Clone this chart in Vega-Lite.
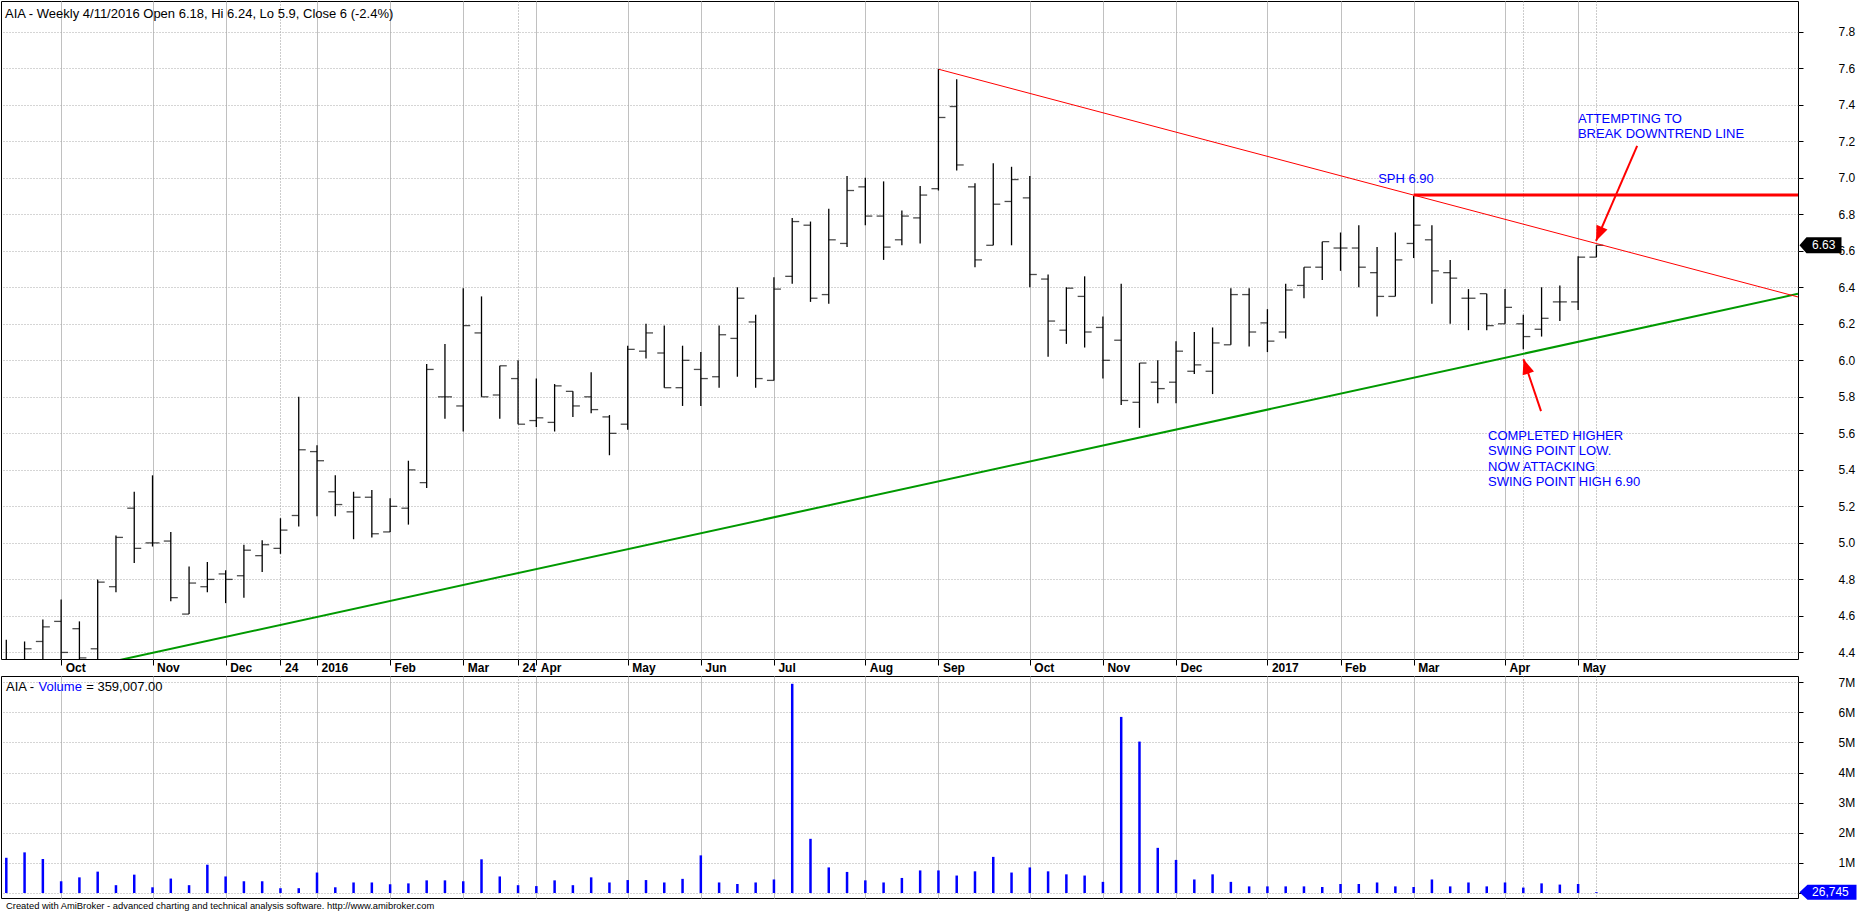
{
  "$schema": "https://vega.github.io/schema/vega-lite/v6.json",
  "padding": 0,
  "background": "white",
  "bounds": "flush",
  "spacing": 17,
  "config": {
    "font": "Liberation Sans",
    "view": {"stroke": "black", "strokeWidth": 1},
    "axis": {"labelFont": "Liberation Sans", "labelColor": "black", "labelOverlap": false, "labelSeparation": 0}
  },
  "datasets": {
    "bars": [
      {"i":0,"o":4.34,"h":4.47,"l":4.30,"c":4.35,"v":1170000},
      {"i":1,"o":4.35,"h":4.46,"l":4.30,"c":4.42,"v":1350000},
      {"i":2,"o":4.46,"h":4.58,"l":4.33,"c":4.54,"v":1130000},
      {"i":3,"o":4.57,"h":4.69,"l":4.33,"c":4.40,"v":390000},
      {"i":4,"o":4.53,"h":4.57,"l":4.36,"c":4.37,"v":520000},
      {"i":5,"o":4.42,"h":4.80,"l":4.34,"c":4.785,"v":710000},
      {"i":6,"o":4.76,"h":5.04,"l":4.73,"c":5.03,"v":260000},
      {"i":7,"o":5.19,"h":5.28,"l":4.89,"c":4.97,"v":610000},
      {"i":8,"o":5.00,"h":5.37,"l":4.98,"c":5.00,"v":190000},
      {"i":9,"o":5.01,"h":5.06,"l":4.68,"c":4.70,"v":480000},
      {"i":10,"o":4.61,"h":4.87,"l":4.61,"c":4.78,"v":260000},
      {"i":11,"o":4.76,"h":4.895,"l":4.73,"c":4.80,"v":940000},
      {"i":12,"o":4.83,"h":4.85,"l":4.67,"c":4.80,"v":550000},
      {"i":13,"o":4.82,"h":4.99,"l":4.70,"c":4.96,"v":390000},
      {"i":14,"o":4.93,"h":5.015,"l":4.84,"c":4.99,"v":390000},
      {"i":15,"o":4.97,"h":5.135,"l":4.94,"c":5.07,"v":160000},
      {"i":16,"o":5.15,"h":5.80,"l":5.09,"c":5.51,"v":160000},
      {"i":17,"o":5.50,"h":5.535,"l":5.146,"c":5.45,"v":680000},
      {"i":18,"o":5.28,"h":5.37,"l":5.146,"c":5.21,"v":190000},
      {"i":19,"o":5.17,"h":5.28,"l":5.02,"c":5.25,"v":350000},
      {"i":20,"o":5.25,"h":5.29,"l":5.03,"c":5.05,"v":350000},
      {"i":21,"o":5.06,"h":5.245,"l":5.06,"c":5.20,"v":290000},
      {"i":22,"o":5.19,"h":5.45,"l":5.10,"c":5.40,"v":320000},
      {"i":23,"o":5.33,"h":5.98,"l":5.30,"c":5.95,"v":420000},
      {"i":24,"o":5.80,"h":6.09,"l":5.68,"c":5.80,"v":420000},
      {"i":25,"o":5.75,"h":6.395,"l":5.61,"c":6.19,"v":390000},
      {"i":26,"o":6.15,"h":6.35,"l":5.80,"c":5.80,"v":1120000},
      {"i":27,"o":5.81,"h":5.97,"l":5.68,"c":5.97,"v":550000},
      {"i":28,"o":5.90,"h":6.00,"l":5.65,"c":5.65,"v":260000},
      {"i":29,"o":5.67,"h":5.90,"l":5.635,"c":5.685,"v":230000},
      {"i":30,"o":5.66,"h":5.87,"l":5.61,"c":5.86,"v":420000},
      {"i":31,"o":5.83,"h":5.83,"l":5.69,"c":5.75,"v":260000},
      {"i":32,"o":5.80,"h":5.935,"l":5.71,"c":5.73,"v":520000},
      {"i":33,"o":5.69,"h":5.70,"l":5.48,"c":5.60,"v":350000},
      {"i":34,"o":5.65,"h":6.08,"l":5.62,"c":6.06,"v":430000},
      {"i":35,"o":6.05,"h":6.20,"l":6.01,"c":6.15,"v":430000},
      {"i":36,"o":6.04,"h":6.19,"l":5.85,"c":5.85,"v":350000},
      {"i":37,"o":5.85,"h":6.08,"l":5.75,"c":6.00,"v":470000},
      {"i":38,"o":5.95,"h":6.045,"l":5.75,"c":5.90,"v":1250000},
      {"i":39,"o":5.91,"h":6.19,"l":5.85,"c":6.14,"v":350000},
      {"i":40,"o":6.12,"h":6.40,"l":5.91,"c":6.34,"v":300000},
      {"i":41,"o":6.21,"h":6.25,"l":5.85,"c":5.90,"v":350000},
      {"i":42,"o":5.89,"h":6.455,"l":5.89,"c":6.39,"v":450000},
      {"i":43,"o":6.46,"h":6.78,"l":6.42,"c":6.76,"v":6950000},
      {"i":44,"o":6.74,"h":6.76,"l":6.32,"c":6.34,"v":1800000},
      {"i":45,"o":6.36,"h":6.83,"l":6.31,"c":6.66,"v":850000},
      {"i":46,"o":6.64,"h":7.01,"l":6.62,"c":6.93,"v":700000},
      {"i":47,"o":6.95,"h":7.00,"l":6.74,"c":6.79,"v":420000},
      {"i":48,"o":6.79,"h":6.98,"l":6.55,"c":6.62,"v":350000},
      {"i":49,"o":6.66,"h":6.82,"l":6.63,"c":6.79,"v":500000},
      {"i":50,"o":6.78,"h":6.955,"l":6.64,"c":6.905,"v":750000},
      {"i":51,"o":6.94,"h":7.595,"l":6.93,"c":7.33,"v":750000},
      {"i":52,"o":7.39,"h":7.54,"l":7.04,"c":7.07,"v":580000},
      {"i":53,"o":6.95,"h":6.97,"l":6.51,"c":6.55,"v":720000},
      {"i":54,"o":6.63,"h":7.08,"l":6.63,"c":6.855,"v":1200000},
      {"i":55,"o":6.87,"h":7.06,"l":6.63,"c":6.99,"v":680000},
      {"i":56,"o":6.89,"h":7.01,"l":6.40,"c":6.47,"v":850000},
      {"i":57,"o":6.445,"h":6.47,"l":6.02,"c":6.215,"v":720000},
      {"i":58,"o":6.165,"h":6.40,"l":6.09,"c":6.395,"v":620000},
      {"i":59,"o":6.35,"h":6.46,"l":6.07,"c":6.155,"v":580000},
      {"i":60,"o":6.18,"h":6.24,"l":5.90,"c":6.00,"v":370000},
      {"i":61,"o":6.11,"h":6.42,"l":5.755,"c":5.78,"v":5850000},
      {"i":62,"o":5.77,"h":5.985,"l":5.63,"c":5.985,"v":5030000},
      {"i":63,"o":5.88,"h":6.00,"l":5.765,"c":5.845,"v":1500000},
      {"i":64,"o":5.88,"h":6.105,"l":5.765,"c":6.05,"v":1100000},
      {"i":65,"o":5.94,"h":6.155,"l":5.925,"c":5.975,"v":450000},
      {"i":66,"o":5.94,"h":6.18,"l":5.815,"c":6.095,"v":620000},
      {"i":67,"o":6.085,"h":6.395,"l":6.085,"c":6.36,"v":370000},
      {"i":68,"o":6.36,"h":6.395,"l":6.075,"c":6.155,"v":220000},
      {"i":69,"o":6.205,"h":6.28,"l":6.045,"c":6.105,"v":220000},
      {"i":70,"o":6.155,"h":6.42,"l":6.12,"c":6.385,"v":220000},
      {"i":71,"o":6.41,"h":6.51,"l":6.34,"c":6.51,"v":220000},
      {"i":72,"o":6.51,"h":6.65,"l":6.44,"c":6.65,"v":200000},
      {"i":73,"o":6.615,"h":6.70,"l":6.49,"c":6.615,"v":300000},
      {"i":74,"o":6.615,"h":6.74,"l":6.40,"c":6.51,"v":300000},
      {"i":75,"o":6.48,"h":6.62,"l":6.24,"c":6.35,"v":350000},
      {"i":76,"o":6.35,"h":6.70,"l":6.35,"c":6.55,"v":220000},
      {"i":77,"o":6.64,"h":6.90,"l":6.56,"c":6.74,"v":200000},
      {"i":78,"o":6.66,"h":6.74,"l":6.31,"c":6.49,"v":450000},
      {"i":79,"o":6.48,"h":6.55,"l":6.20,"c":6.45,"v":220000},
      {"i":80,"o":6.34,"h":6.39,"l":6.165,"c":6.34,"v":350000},
      {"i":81,"o":6.365,"h":6.365,"l":6.165,"c":6.19,"v":220000},
      {"i":82,"o":6.20,"h":6.39,"l":6.20,"c":6.29,"v":350000},
      {"i":83,"o":6.20,"h":6.25,"l":6.06,"c":6.13,"v":180000},
      {"i":84,"o":6.17,"h":6.40,"l":6.13,"c":6.23,"v":320000},
      {"i":85,"o":6.32,"h":6.41,"l":6.215,"c":6.32,"v":280000},
      {"i":86,"o":6.32,"h":6.57,"l":6.275,"c":6.565,"v":300000},
      {"i":87,"o":6.565,"h":6.63,"l":6.565,"c":6.63,"v":26745}
    ],
    "one": [{}]
  },
  "vconcat": [
    {
      "width": 1797,
      "height": 658,
      "layer": [
        {
          "data": {"name": "bars"},
          "mark": {"type": "rule", "color": "black", "strokeWidth": 1.3, "clip": true},
          "encoding": {
            "x": {
              "field": "i", "type": "quantitative",
              "scale": {"domain": [-0.29, 98.03], "nice": false, "zero": false},
              "axis": {
                "title": null,
                "values": [3,8,12,15,17,21,25,28,29,34,38,42,47,51,56,60,64,69,73,77,82,83,86,87],
                "tickCount": 200,
                "labelExpr": "['Oct','Nov','Dec','24','2016','Feb','Mar','24','Apr','May','Jun','Jul','Aug','Sep','Oct','Nov','Dec','2017','Feb','Mar','Apr','','May',''][indexof([3,8,12,15,17,21,25,28,29,34,38,42,47,51,56,60,64,69,73,77,82,83,86,87], datum.value)]",
                "domain": false,
                "ticks": true,
                "tickSize": 6,
                "tickColor": "black",
                "tickOpacity": {"condition": {"test": "datum.value == 83 || datum.value == 87", "value": 0}, "value": 1},
                "labelFontSize": 12,
                "labelFontWeight": "bold",
                "labelAlign": "left",
                "labelBaseline": "top",
                "labelPadding": -2.5,
                "labelOffset": 4,
                "labelOverlap": false,
                "labelFlush": false,
                "labelBound": false,
                "grid": true,
                "gridColor": {"condition": {"test": "indexof([15,28,83,87], datum.value) >= 0", "value": "#999999"}, "value": "#c0c0c0"},
                "gridDash": {"condition": {"test": "indexof([15,28,83,87], datum.value) >= 0", "value": [1,2]}, "value": []}
              }
            },
            "y": {
              "field": "l", "type": "quantitative",
              "scale": {"domain": [4.364, 7.968], "nice": false, "zero": false},
              "axis": {
                "title": null,
                "orient": "right",
                "values": [4.4,4.6,4.8,5.0,5.2,5.4,5.6,5.8,6.0,6.2,6.4,6.6,6.8,7.0,7.2,7.4,7.6,7.8],
                "tickCount": 100,
                "format": ".1f",
                "domain": false,
                "tickSize": 5,
                "tickColor": "black",
                "labelPadding": 35,
                "labelFontSize": 12,
                "labelAlign": "left",
                "labelBaseline": "middle",
                "labelOverlap": false,
                "labelFlush": false,
                "labelBound": false,
                "grid": true,
                "gridColor": "#aaaaaa",
                "gridDash": [1,2]
              }
            },
            "y2": {"field": "h"}
          }
        },
        {
          "data": {"name": "bars"},
          "mark": {"type": "tick", "orient": "horizontal", "color": "black", "size": 7, "thickness": 1.3, "xOffset": -3.5, "clip": true},
          "encoding": {
            "x": {"field": "i", "type": "quantitative"},
            "y": {"field": "o", "type": "quantitative"}
          }
        },
        {
          "data": {"name": "bars"},
          "mark": {"type": "tick", "orient": "horizontal", "color": "black", "size": 7, "thickness": 1.3, "xOffset": 3.5, "clip": true},
          "encoding": {
            "x": {"field": "i", "type": "quantitative"},
            "y": {"field": "c", "type": "quantitative"}
          }
        },
        {
          "data": {"values": [{"i": 0, "p": 4.223}, {"i": 98.03, "p": 6.364}]},
          "mark": {"type": "line", "color": "#009900", "strokeWidth": 2, "clip": true},
          "encoding": {
            "x": {"field": "i", "type": "quantitative"},
            "y": {"field": "p", "type": "quantitative"}
          }
        },
        {
          "data": {"values": [{"i": 51.02, "p": 7.594}, {"i": 98.03, "p": 6.347}]},
          "mark": {"type": "line", "color": "#ff0000", "strokeWidth": 1, "clip": true},
          "encoding": {
            "x": {"field": "i", "type": "quantitative"},
            "y": {"field": "p", "type": "quantitative"}
          }
        },
        {
          "data": {"values": [{"i": 77, "p": 6.905}, {"i": 98.03, "p": 6.905}]},
          "mark": {"type": "line", "color": "#ff0000", "strokeWidth": 3, "clip": true},
          "encoding": {
            "x": {"field": "i", "type": "quantitative"},
            "y": {"field": "p", "type": "quantitative"}
          }
        },
        {
          "data": {"values": [
            {"i": 89.23, "p": 7.174, "i2": 86.98, "p2": 6.654},
            {"i": 83.97, "p": 5.722, "i2": 83.01, "p2": 6.006}
          ]},
          "mark": {"type": "rule", "color": "#ff0000", "strokeWidth": 2},
          "encoding": {
            "x": {"field": "i", "type": "quantitative"},
            "y": {"field": "p", "type": "quantitative"},
            "x2": {"field": "i2"},
            "y2": {"field": "p2"}
          }
        },
        {
          "data": {"values": [
            {"i": 86.98, "p": 6.654, "a": 203.3},
            {"i": 83.01, "p": 6.006, "a": 341.1}
          ]},
          "mark": {"type": "point", "shape": "M0,0L-0.4,1L0.4,1Z", "filled": true, "color": "#ff0000", "opacity": 1, "size": 900},
          "encoding": {
            "x": {"field": "i", "type": "quantitative"},
            "y": {"field": "p", "type": "quantitative"},
            "angle": {"field": "a", "type": "quantitative", "scale": null}
          }
        },
        {
          "data": {"name": "one"},
          "mark": {"type": "text", "align": "left", "baseline": "alphabetic", "fontSize": 13, "color": "black"},
          "encoding": {
            "x": {"datum": -0.071},
            "y": {"datum": 7.877},
            "text": {"value": "AIA - Weekly 4/11/2016 Open 6.18, Hi 6.24, Lo 5.9, Close 6 (-2.4%)"}
          }
        },
        {
          "data": {"name": "one"},
          "mark": {"type": "text", "align": "left", "baseline": "alphabetic", "fontSize": 13, "color": "#0000ff"},
          "encoding": {
            "x": {"datum": 75.06},
            "y": {"datum": 6.971},
            "text": {"value": "SPH 6.90"}
          }
        },
        {
          "data": {"name": "one"},
          "mark": {"type": "text", "align": "left", "baseline": "alphabetic", "fontSize": 13, "lineHeight": 15, "color": "#0000ff"},
          "encoding": {
            "x": {"datum": 85.99},
            "y": {"datum": 7.3},
            "text": {"value": ["ATTEMPTING TO", "BREAK DOWNTREND LINE"]}
          }
        },
        {
          "data": {"name": "one"},
          "mark": {"type": "text", "align": "left", "baseline": "alphabetic", "fontSize": 13, "lineHeight": 15.5, "color": "#0000ff"},
          "encoding": {
            "x": {"datum": 81.07},
            "y": {"datum": 5.565},
            "text": {"value": ["COMPLETED HIGHER", "SWING POINT LOW.", "NOW ATTACKING", "SWING POINT HIGH 6.90"]}
          }
        },
        {
          "data": {"name": "one"},
          "mark": {"type": "point", "shape": "M-1,0L-0.667,-0.381L1,-0.381L1,0.381L-0.667,0.381Z", "filled": true, "color": "black", "opacity": 1, "size": 1764},
          "encoding": {
            "x": {"datum": 99.26},
            "y": {"datum": 6.63}
          }
        },
        {
          "data": {"name": "one"},
          "mark": {"type": "text", "align": "left", "baseline": "middle", "fontSize": 12, "color": "white"},
          "encoding": {
            "x": {"datum": 98.8},
            "y": {"datum": 6.63},
            "text": {"value": "6.63"}
          }
        }
      ]
    },
    {
      "width": 1797,
      "height": 222,
      "title": {
        "text": "Created with AmiBroker - advanced charting and technical analysis software. http://www.amibroker.com",
        "orient": "bottom",
        "anchor": "start",
        "fontSize": 9.4,
        "font": "Liberation Sans",
        "fontWeight": "normal",
        "color": "black",
        "offset": 2,
        "dx": 5
      },
      "layer": [
        {
          "data": {"name": "bars"},
          "mark": {"type": "rule", "color": "#0000ff", "strokeWidth": 2.5},
          "encoding": {
            "x": {
              "field": "i", "type": "quantitative",
              "scale": {"domain": [-0.29, 98.03], "nice": false, "zero": false},
              "axis": {
                "title": null,
                "values": [3,8,12,15,17,21,25,28,29,34,38,42,47,51,56,60,64,69,73,77,82,83,86,87],
                "tickCount": 200,
                "labels": false,
                "ticks": false,
                "domain": false,
                "grid": true,
                "gridColor": {"condition": {"test": "indexof([15,28,83,87], datum.value) >= 0", "value": "#999999"}, "value": "#c0c0c0"},
                "gridDash": {"condition": {"test": "indexof([15,28,83,87], datum.value) >= 0", "value": [1,2]}, "value": []}
              }
            },
            "y": {
              "field": "v", "type": "quantitative",
              "scale": {"domain": [-166000, 7209000], "nice": false, "zero": false},
              "axis": {
                "title": null,
                "orient": "right",
                "values": [0,1000000,2000000,3000000,4000000,5000000,6000000,7000000],
                "tickCount": 100,
                "labelExpr": "datum.value == 0 ? '' : (datum.value / 1000000) + 'M'",
                "domain": false,
                "tickSize": 5,
                "tickColor": "black",
                "labelPadding": 35,
                "labelFontSize": 12,
                "labelAlign": "left",
                "labelBaseline": "middle",
                "labelOverlap": false,
                "labelFlush": false,
                "labelBound": false,
                "grid": true,
                "gridColor": "#aaaaaa",
                "gridDash": [1,2]
              }
            },
            "y2": {"datum": 0}
          }
        },
        {
          "data": {"name": "one"},
          "mark": {"type": "text", "align": "left", "baseline": "alphabetic", "fontSize": 13, "color": "black"},
          "encoding": {
            "x": {"datum": -0.016},
            "y": {"datum": 6727000},
            "text": {"value": "AIA - "}
          }
        },
        {
          "data": {"name": "one"},
          "mark": {"type": "text", "align": "left", "baseline": "alphabetic", "fontSize": 13, "color": "#0000ff", "dx": 32.5},
          "encoding": {
            "x": {"datum": -0.016},
            "y": {"datum": 6727000},
            "text": {"value": "Volume"}
          }
        },
        {
          "data": {"name": "one"},
          "mark": {"type": "text", "align": "left", "baseline": "alphabetic", "fontSize": 13, "color": "black", "dx": 80.2},
          "encoding": {
            "x": {"datum": -0.016},
            "y": {"datum": 6727000},
            "text": {"value": "= 359,007.00"}
          }
        },
        {
          "data": {"name": "one"},
          "mark": {"type": "point", "shape": "M-1,0L-0.719,-0.263L1,-0.263L1,0.263L-0.719,0.263Z", "filled": true, "color": "#0000ff", "opacity": 1, "size": 3249},
          "encoding": {
            "x": {"datum": 99.67},
            "y": {"datum": 26745}
          }
        },
        {
          "data": {"name": "one"},
          "mark": {"type": "text", "align": "left", "baseline": "middle", "fontSize": 12, "color": "white"},
          "encoding": {
            "x": {"datum": 98.8},
            "y": {"datum": 26745},
            "text": {"value": "26,745"}
          }
        }
      ]
    }
  ]
}
